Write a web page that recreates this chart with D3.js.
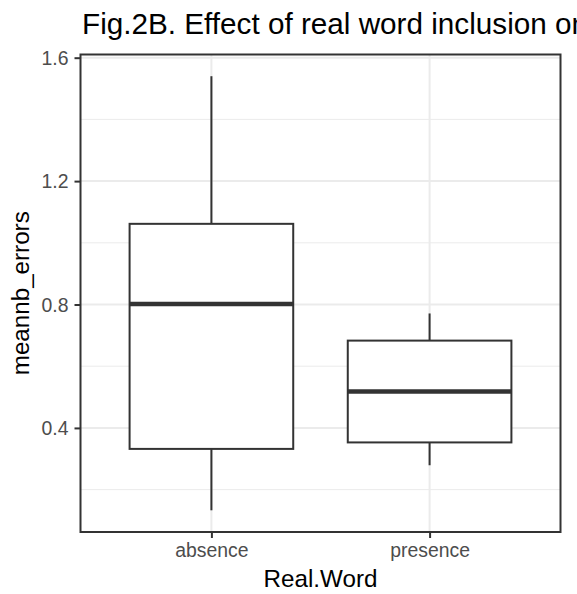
<!DOCTYPE html>
<html>
<head>
<meta charset="utf-8">
<script src="https://cdn.jsdelivr.net/npm/d3@7"></script>
<style>
  body { margin: 0; background: #fff; }
  svg { display: block; font-family: "Liberation Sans", Arial, Helvetica, sans-serif; }
</style>
</head>
<body>
<svg id="chart" width="577" height="594"></svg>
<script>
// boxplot stats
const categories = ["absence", "presence"];
const whiskerLow = [0.133, 0.279];
const lowerHinge = [0.332, 0.353];
const medians = [0.802, 0.518];
const upperHinge = [1.0615, 0.683];
const whiskerHigh = [1.540, 0.771];

const yTicks = [0.4, 0.8, 1.2, 1.6];
const yMinor = [0.2, 0.6, 1.0, 1.4];

const width = 577, height = 594;
const margin = { top: 54.5, right: 16.5, bottom: 62, left: 80.5 };
const panelW = width - margin.left - margin.right;
const panelH = height - margin.top - margin.bottom;

const svg = d3.select("#chart");

// ggplot style 5% expansion of the data range
const lo = d3.min(whiskerLow), hi = d3.max(whiskerHigh);
const pad = (hi - lo) * 0.05;

const y = d3.scaleLinear()
  .domain([lo - pad, hi + pad])
  .range([margin.top + panelH, margin.top]);

const x = d3.scalePoint()
  .domain(categories)
  .range([margin.left, margin.left + panelW])
  .padding(0.6);

const boxW = x.step() * 0.75;

// panel grid
const grid = svg.append("g");
grid.selectAll(".minor")
  .data(yMinor)
  .enter()
  .append("line")
  .attr("x1", margin.left)
  .attr("x2", margin.left + panelW)
  .attr("y1", (d) => y(d))
  .attr("y2", (d) => y(d))
  .attr("stroke", "#EBEBEB")
  .attr("stroke-width", 1);

grid.selectAll(".major")
  .data(yTicks)
  .enter()
  .append("line")
  .attr("x1", margin.left)
  .attr("x2", margin.left + panelW)
  .attr("y1", (d) => y(d))
  .attr("y2", (d) => y(d))
  .attr("stroke", "#EBEBEB")
  .attr("stroke-width", 2);

grid.selectAll(".xmajor")
  .data(categories)
  .enter()
  .append("line")
  .attr("x1", (d) => x(d))
  .attr("x2", (d) => x(d))
  .attr("y1", margin.top)
  .attr("y2", margin.top + panelH)
  .attr("stroke", "#EBEBEB")
  .attr("stroke-width", 2);

// boxes
const boxes = svg.append("g")
  .selectAll("g")
  .data(categories)
  .enter()
  .append("g");

boxes.append("line")
  .attr("x1", (d) => x(d))
  .attr("x2", (d) => x(d))
  .attr("y1", (_d, i) => y(whiskerHigh[i]))
  .attr("y2", (_d, i) => y(upperHinge[i]))
  .attr("stroke", "#333333")
  .attr("stroke-width", 2);

boxes.append("line")
  .attr("x1", (d) => x(d))
  .attr("x2", (d) => x(d))
  .attr("y1", (_d, i) => y(lowerHinge[i]))
  .attr("y2", (_d, i) => y(whiskerLow[i]))
  .attr("stroke", "#333333")
  .attr("stroke-width", 2);

boxes.append("rect")
  .attr("x", (d) => x(d) - boxW / 2)
  .attr("y", (_d, i) => y(upperHinge[i]))
  .attr("width", boxW)
  .attr("height", (_d, i) => y(lowerHinge[i]) - y(upperHinge[i]))
  .attr("fill", "#fff")
  .attr("stroke", "#333333")
  .attr("stroke-width", 2);

boxes.append("line")
  .attr("x1", (d) => x(d) - boxW / 2)
  .attr("x2", (d) => x(d) + boxW / 2)
  .attr("y1", (_d, i) => y(medians[i]))
  .attr("y2", (_d, i) => y(medians[i]))
  .attr("stroke", "#333333")
  .attr("stroke-width", 4.5);

// panel border
svg.append("rect")
  .attr("x", margin.left)
  .attr("y", margin.top)
  .attr("width", panelW)
  .attr("height", panelH)
  .attr("fill", "none")
  .attr("stroke", "#333333")
  .attr("stroke-width", 2);

// axes
const yAxis = svg.append("g")
  .attr("transform", `translate(${margin.left},0)`)
  .call(d3.axisLeft(y).tickValues(yTicks).tickFormat(d3.format(".1f")).tickSize(6).tickPadding(6));

const xAxis = svg.append("g")
  .attr("transform", `translate(0,${margin.top + panelH})`)
  .call(d3.axisBottom(x).tickSize(6).tickPadding(5));

[yAxis, xAxis].forEach((ax) => {
  ax.select(".domain").remove();
  ax.selectAll(".tick line").attr("stroke", "#333333").attr("stroke-width", 2);
  ax.selectAll(".tick text")
    .attr("fill", "#4D4D4D")
    .style("font-size", "19.4px")
    .style("font-family", "'Liberation Sans', Arial, sans-serif");
});
yAxis.selectAll(".tick text").attr("dy", "0.35em");
xAxis.selectAll(".tick text").attr("dy", "0.72em");

// titles
svg.append("text")
  .attr("x", margin.left + panelW / 2)
  .attr("y", 587)
  .attr("text-anchor", "middle")
  .style("font-size", "24.2px")
  .attr("fill", "#000")
  .text("Real.Word");

svg.append("text")
  .attr("transform", `translate(29,${margin.top + panelH / 2}) rotate(-90)`)
  .attr("text-anchor", "middle")
  .style("font-size", "24.2px")
  .attr("fill", "#000")
  .text("meannb_errors");

svg.append("text")
  .attr("x", 82)
  .attr("y", 33.5)
  .style("font-size", "29.7px")
  .attr("fill", "#000")
  .text("Fig.2B. Effect of real word inclusion on mean number of errors");
</script>
</body>
</html>
